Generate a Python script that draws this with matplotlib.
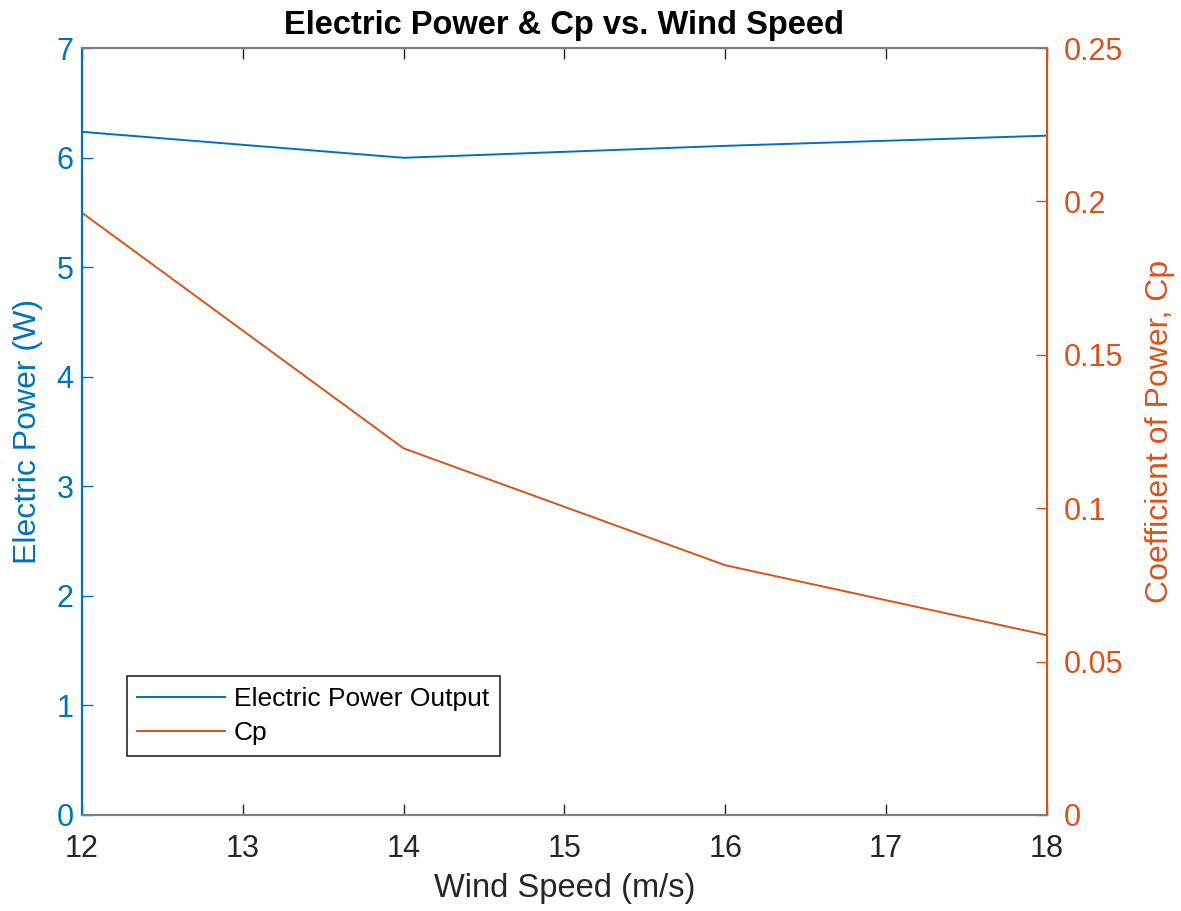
import matplotlib
matplotlib.use("Agg")
import matplotlib.pyplot as plt

plt.rcParams['font.family'] = ['Liberation Sans', 'DejaVu Sans']

BLUE = '#0072BD'
ORANGE = '#D95319'
GRAY = '#262626'

wind_speed = [12, 14, 16, 18]
electric_power = [6.235, 5.998, 6.107, 6.20]
cp = [0.1963, 0.1195, 0.0814, 0.0586]

fig = plt.figure(figsize=(11.81, 9.11), dpi=100)
ax = fig.add_axes([0.0694, 0.1054, 0.8171, 0.8419])
ax2 = ax.twinx()

l1, = ax.plot(wind_speed, electric_power, color=BLUE, lw=1.4, label='Electric Power Output')
l2, = ax2.plot(wind_speed, cp, color=ORANGE, lw=1.4, label='Cp')

ax.set_xlim(12, 18)
ax.set_ylim(0, 7)
ax2.set_ylim(0, 0.25)
ax.set_xticks(range(12, 19))
ax.set_yticks(range(0, 8))
ax2.set_yticks([0, 0.05, 0.1, 0.15, 0.2, 0.25])
ax2.set_yticklabels(['0', '0.05', '0.1', '0.15', '0.2', '0.25'])

for a in (ax, ax2):
    a.spines['top'].set_color('#7f7f7f')
    a.spines['bottom'].set_color('#7f7f7f')
    a.spines['left'].set_color(BLUE)
    a.spines['right'].set_color(ORANGE)
    for s in a.spines.values():
        s.set_linewidth(1.5)

ax.tick_params(axis='x', direction='in', length=8, width=1, colors=GRAY,
               labelsize=22, top=True, pad=14)
ax.tick_params(axis='y', direction='in', length=8, width=1, colors=BLUE,
               labelsize=22, pad=6)
ax2.tick_params(axis='y', direction='in', length=8, width=1, colors=ORANGE,
                labelsize=22, pad=12)

ax.set_xlabel('Wind Speed (m/s)', fontsize=23.5, color=GRAY, labelpad=6)
ax.set_ylabel('Electric Power (W)', fontsize=23, color=BLUE, labelpad=10)
ax2.set_ylabel('Coefficient of Power, Cp', fontsize=23, color=ORANGE, labelpad=16)
ax.set_title('Electric Power & Cp vs. Wind Speed', fontsize=23.5,
             fontweight='bold', pad=10)

leg = ax2.legend(handles=[l1, l2], loc='lower left',
                 bbox_to_anchor=(0.0466, 0.077), borderaxespad=0,
                 fontsize=19, fancybox=False, framealpha=1,
                 edgecolor=GRAY, handlelength=3.3, handletextpad=0.35,
                 labelspacing=0.4, borderpad=0.4)
leg.get_frame().set_linewidth(1.2)

fig.savefig('out.png', dpi=100)
